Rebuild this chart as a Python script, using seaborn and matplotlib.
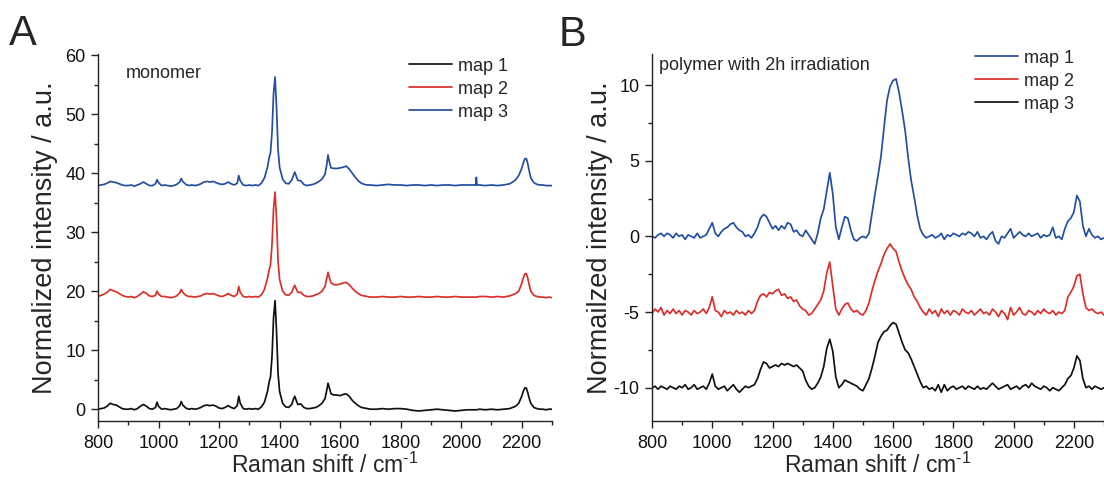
import numpy as np
import pandas as pd
import matplotlib
matplotlib.use("Agg")
import matplotlib.pyplot as plt
from matplotlib.ticker import MultipleLocator
import seaborn as sns

# ---------------- Panel A : monomer ----------------
shift_a = [800, 810, 820, 830, 840, 850, 860, 870, 880, 890,
           900, 910, 920, 930, 940, 950, 960, 970, 980, 990,
           995, 1000, 1010, 1020, 1030, 1040, 1050, 1060, 1070, 1075,
           1080, 1090, 1100, 1110, 1120, 1130, 1140, 1150, 1160, 1170,
           1180, 1190, 1200, 1210, 1220, 1230, 1240, 1250, 1260, 1265,
           1270, 1280, 1290, 1300, 1310, 1320, 1330, 1340, 1350, 1360,
           1365, 1370, 1375, 1380, 1385, 1390, 1395, 1400, 1410, 1420,
           1430, 1440, 1445, 1450, 1455, 1460, 1470, 1480, 1490, 1500,
           1510, 1520, 1530, 1540, 1550, 1555, 1560, 1565, 1570, 1580,
           1590, 1600, 1610, 1620, 1630, 1640, 1650, 1660, 1670, 1680,
           1690, 1700, 1720, 1740, 1760, 1780, 1800, 1820, 1840, 1860,
           1880, 1900, 1920, 1940, 1960, 1980, 2000, 2020, 2040, 2048,
           2050, 2052, 2060, 2080, 2100, 2120, 2140, 2160, 2170, 2180,
           2190, 2200, 2205, 2210, 2215, 2220, 2225, 2230, 2240, 2250,
           2260, 2270, 2280, 2290, 2300]

mono_map1 = [0.0, 0.1, 0.2, 0.5, 1.0, 0.8, 0.7, 0.4, 0.1, 0.0,
             0.0, 0.1, -0.1, 0.1, 0.5, 0.8, 0.5, 0.1, 0.0, 0.3,
             1.2, 0.5, 0.0, 0.1, 0.0, -0.1, 0.0, 0.1, 0.6, 1.3,
             0.7, 0.2, 0.0, 0.1, 0.0, 0.1, 0.3, 0.6, 0.7, 0.6,
             0.7, 0.5, 0.2, 0.1, 0.3, 0.6, 0.3, 0.1, 0.6, 2.2,
             1.0, 0.1, 0.0, 0.1, 0.0, 0.1, 0.0, 0.4, 1.2, 3.0,
             4.5, 5.5, 9.0, 15.5, 18.4, 13.0, 6.0, 3.0, 1.0, 0.4,
             0.3, 0.8, 1.6, 2.2, 1.5, 0.8, 0.9, 0.3, 0.1, 0.1,
             0.2, 0.3, 0.6, 1.0, 1.8, 3.0, 4.4, 3.5, 2.6, 2.4,
             2.4, 2.3, 2.5, 2.6, 2.2, 1.5, 1.0, 0.6, 0.3, 0.2,
             0.1, 0.0, 0.0, 0.1, 0.0, 0.1, 0.1, 0.0, -0.2, -0.3,
             -0.2, -0.1, 0.0, -0.1, -0.2, -0.3, -0.2, -0.1, -0.1, -0.1,
             -0.1, -0.1, 0.0, -0.1, 0.0, -0.1, 0.0, 0.1, 0.3, 0.5,
             1.0, 2.2, 3.0, 3.6, 3.6, 2.8, 1.8, 1.0, 0.3, 0.1,
             0.0, 0.0, -0.1, 0.0, 0.0]

mono_map2 = [19.1, 19.3, 19.5, 19.8, 20.3, 20.1, 19.9, 19.6, 19.3, 19.1,
             19.0, 19.1, 18.9, 19.1, 19.5, 19.9, 19.6, 19.2, 19.1, 19.3,
             20.0, 19.5, 19.1, 19.1, 19.0, 18.9, 19.0, 19.2, 19.7, 20.3,
             19.8, 19.3, 19.1, 19.1, 19.0, 19.1, 19.2, 19.5, 19.6, 19.5,
             19.6, 19.4, 19.2, 19.1, 19.3, 19.6, 19.3, 19.1, 19.5, 20.8,
             19.8, 19.1, 19.0, 19.1, 19.0, 19.1, 19.0, 19.4, 20.3, 22.2,
             23.5, 24.5, 28.0, 34.0, 36.8, 32.0, 25.0, 22.0, 20.0, 19.4,
             19.3, 19.8, 20.5, 21.0, 20.4, 19.8, 19.8, 19.3, 19.1, 19.1,
             19.2, 19.4, 19.6, 20.0, 20.8, 22.0, 23.2, 22.2, 21.4, 21.1,
             21.1, 21.2, 21.4, 21.5, 21.1, 20.5, 20.0, 19.6, 19.3, 19.2,
             19.1, 19.0, 19.0, 19.1, 19.0, 19.0, 19.1, 19.0, 19.0, 19.1,
             19.0, 19.0, 19.1, 19.0, 19.0, 19.1, 19.0, 19.0, 19.0, 19.0,
             19.0, 19.0, 19.1, 19.1, 19.0, 19.1, 19.0, 19.2, 19.4, 19.6,
             20.0, 21.3, 22.2, 22.9, 23.0, 22.2, 21.0, 20.0, 19.3, 19.1,
             19.0, 19.0, 18.9, 19.0, 18.9]

mono_map3 = [37.9, 38.0, 38.1, 38.3, 38.6, 38.5, 38.4, 38.2, 38.0, 37.9,
             37.9, 38.0, 37.8, 38.0, 38.2, 38.5, 38.2, 37.9, 37.9, 38.2,
             38.9, 38.4, 37.9, 38.0, 37.9, 37.8, 37.9, 38.1, 38.5, 39.1,
             38.6, 38.1, 37.9, 38.0, 37.9, 38.0, 38.2, 38.5, 38.6, 38.5,
             38.6, 38.4, 38.2, 38.1, 38.2, 38.5, 38.2, 38.0, 38.3, 39.6,
             38.7, 38.0, 37.9, 38.0, 37.9, 38.0, 37.9, 38.3, 39.2, 41.0,
             42.5, 43.5, 47.0, 53.5, 56.3, 51.0, 44.0, 41.0, 39.0, 38.3,
             38.2, 38.8, 39.5, 40.2, 39.5, 38.8, 38.7, 38.1, 37.9, 38.0,
             38.1, 38.3, 38.6, 39.0, 39.8, 41.2, 43.1, 41.8, 40.9, 40.8,
             40.8, 40.9, 41.0, 41.2, 40.7, 40.0, 39.3, 38.7, 38.3, 38.1,
             38.0, 38.0, 37.9, 38.0, 38.1, 38.0, 38.0, 37.9, 38.0, 38.0,
             37.9, 38.0, 37.9, 38.0, 38.0, 37.9, 38.0, 38.0, 38.0, 38.0,
             39.3, 38.0, 38.0, 37.9, 38.0, 37.9, 38.0, 38.2, 38.5, 38.9,
             39.6, 40.8, 41.7, 42.4, 42.5, 41.6, 40.3, 39.2, 38.4, 38.1,
             38.0, 38.0, 37.9, 37.9, 37.9]

# ---------------- Panel B : polymer with 2h irradiation ----------------
shift_b = [800, 810, 820, 830, 840, 850, 860, 870, 880, 890,
           900, 910, 920, 930, 940, 950, 960, 970, 980, 990,
           1000, 1010, 1020, 1030, 1040, 1050, 1060, 1070, 1080, 1090,
           1100, 1110, 1120, 1130, 1140, 1150, 1160, 1170, 1180, 1190,
           1200, 1210, 1220, 1230, 1240, 1250, 1260, 1270, 1280, 1290,
           1300, 1310, 1320, 1330, 1340, 1350, 1360, 1370, 1380, 1390,
           1400, 1410, 1420, 1430, 1440, 1450, 1460, 1470, 1480, 1490,
           1500, 1510, 1520, 1530, 1540, 1550, 1560, 1570, 1580, 1590,
           1600, 1610, 1620, 1630, 1640, 1650, 1660, 1670, 1680, 1690,
           1700, 1710, 1720, 1730, 1740, 1750, 1760, 1770, 1780, 1790,
           1800, 1810, 1820, 1830, 1840, 1850, 1860, 1870, 1880, 1890,
           1900, 1910, 1920, 1930, 1940, 1950, 1960, 1970, 1980, 1990,
           2000, 2010, 2020, 2030, 2040, 2050, 2060, 2070, 2080, 2090,
           2100, 2110, 2120, 2130, 2140, 2150, 2160, 2170, 2180, 2190,
           2200, 2210, 2220, 2230, 2240, 2250, 2260, 2270, 2280, 2290,
           2300]

poly_map1 = [0.0, -0.1, 0.1, 0.2, 0.0, 0.2, 0.1, -0.1, 0.2, 0.0,
             0.1, -0.2, 0.1, 0.0, -0.1, 0.2, -0.1, 0.0, 0.1, 0.5,
             0.9, 0.2, 0.0, 0.3, 0.5, 0.6, 0.8, 0.9, 0.6, 0.4,
             0.3, 0.0, 0.1, -0.1, 0.2, 0.6, 1.2, 1.45, 1.3, 0.9,
             0.5, 0.7, 0.4, 0.7, 0.5, 0.9, 0.8, 0.3, 0.4, 0.1,
             0.0, 0.4, 0.1, -0.2, -0.5, 0.2, 1.2, 1.8, 3.0, 4.2,
             2.8, 0.6, -0.2, 0.6, 1.3, 1.2, 0.4, -0.2, -0.3, -0.1,
             0.0, -0.1, 0.2, 1.5, 2.8, 4.0, 5.3, 7.2, 9.0, 9.9,
             10.3, 10.4, 9.5, 8.3, 7.0, 5.2, 3.7, 2.6, 1.4, 0.5,
             0.1, -0.1, 0.0, 0.1, -0.1, 0.0, 0.2, -0.2, 0.1, 0.0,
             0.2, 0.1, 0.0, 0.2, 0.1, 0.3, 0.2, 0.0, 0.3, -0.1,
             0.0, -0.2, 0.1, 0.3, -0.3, -0.5, 0.0, -0.1, 0.2, 0.5,
             -0.1, 0.1, 0.3, 0.1, 0.0, 0.2, 0.0, 0.1, 0.2, -0.1,
             0.1, 0.0, 0.1, 0.6, -0.1, 0.0, -0.2, 0.5, 1.0, 1.2,
             1.6, 2.7, 2.3, 0.7, 0.0, 0.5, 0.1, -0.1, 0.0, -0.2,
             -0.1]

poly_map2 = [-5.1, -4.8, -5.0, -4.7, -5.2, -4.9, -5.1, -4.8, -5.1, -4.9,
             -5.2, -4.9, -5.0, -5.2, -4.9, -5.1, -5.0, -4.8, -5.1, -4.7,
             -4.0, -4.9, -5.0, -5.3, -4.9, -5.1, -5.0, -5.2, -4.9, -5.1,
             -5.0, -5.2, -4.9, -5.1, -4.9, -4.3, -3.9, -3.8, -4.0, -3.7,
             -3.8, -3.6, -3.5, -3.9, -3.8, -4.1, -4.0, -4.3, -4.2, -4.6,
             -4.8, -4.9, -5.2, -5.1, -4.8, -4.5, -4.2, -3.6, -2.4, -1.7,
             -3.3, -4.8, -5.2, -4.8, -4.5, -4.4, -4.8, -5.0, -4.9, -5.1,
             -5.2, -4.9, -4.4, -3.6, -2.9, -2.3, -1.8, -1.2, -0.8, -0.5,
             -0.8, -1.0, -1.7, -2.3, -2.8, -3.2, -3.5, -4.0, -4.3, -4.7,
             -5.0, -5.2, -4.8, -5.1, -4.9, -5.3, -4.8, -5.1, -4.9, -5.2,
             -4.9, -5.0, -5.2, -4.8, -5.0, -5.1, -4.9, -5.2, -5.0, -4.8,
             -5.1, -5.0, -5.2, -4.8, -5.0, -5.3, -4.9, -5.1, -5.5, -4.7,
             -5.2, -5.0, -4.7, -5.1, -5.2, -4.9, -5.0, -5.2, -4.9, -5.1,
             -4.8, -5.0, -5.1, -4.9, -5.2, -5.0, -5.1, -4.9, -4.0, -3.7,
             -3.3, -2.6, -2.5, -3.8, -4.7, -4.9, -4.8, -5.0, -5.1, -5.0,
             -5.2]

poly_map3 = [-10.0, -9.9, -10.1, -9.9, -10.0, -10.1, -9.9, -10.0, -10.1, -9.9,
             -10.0, -9.8, -10.1, -10.0, -9.8, -10.1, -10.0, -9.9, -10.1, -9.7,
             -9.1, -9.9, -10.1, -10.0, -9.9, -10.2, -10.0, -9.8, -10.1, -10.3,
             -10.1, -9.9, -10.0, -9.9, -9.8, -9.4, -8.8, -8.3, -8.4, -8.7,
             -8.6, -8.5, -8.6, -8.4, -8.5, -8.4, -8.5, -8.6, -8.5, -8.7,
             -8.9, -9.5, -9.9, -10.1, -10.0, -9.7, -9.3, -8.6, -7.4, -6.8,
             -7.6, -9.3, -10.0, -9.8, -9.5, -9.6, -9.7, -9.8, -9.9, -10.1,
             -10.2, -9.8, -9.4, -8.7, -7.9, -7.0, -6.6, -6.3, -6.2, -5.9,
             -5.7, -5.8, -6.4, -7.0, -7.5, -7.7, -8.1, -8.6, -9.1, -9.6,
             -10.0, -9.9, -10.1, -10.0, -10.2, -9.8, -10.3, -9.8, -10.2, -10.0,
             -9.9, -10.1, -10.0, -9.9, -10.1, -9.9, -10.0, -10.1, -9.9, -10.1,
             -10.0, -10.1, -9.9, -9.7, -9.9, -10.1, -10.0, -9.9, -9.8, -10.1,
             -10.0, -9.9, -10.1, -9.9, -9.8, -10.0, -9.7, -9.9, -10.0, -10.1,
             -9.9, -10.0, -10.2, -10.0, -10.1, -10.2, -10.0, -9.8, -9.4, -9.2,
             -8.7, -7.9, -8.2, -9.4, -10.0, -9.9, -10.1, -9.9, -10.0, -10.1,
             -10.0]

legend_labels = ["map 1", "map 2", "map 3"]
BLACK, RED, BLUE = "#111111", "#d9302c", "#234f9f"

for arr in (mono_map1, mono_map2, mono_map3):
    assert len(arr) == len(shift_a)
for arr in (poly_map1, poly_map2, poly_map3):
    assert len(arr) == len(shift_b)

# ---------------- Styling ----------------
sns.set_style("ticks")
plt.rcParams['font.family'] = ['Liberation Sans', 'DejaVu Sans']
plt.rcParams['mathtext.fontset'] = 'custom'
plt.rcParams['mathtext.rm'] = 'Liberation Sans'
plt.rcParams['mathtext.it'] = 'Liberation Sans:italic'
plt.rcParams['mathtext.bf'] = 'Liberation Sans:bold'
plt.rcParams['axes.unicode_minus'] = False

W, H = 1104, 479
fig = plt.figure(figsize=(W / 100, H / 100), dpi=100)
top, bottom = 54, 421
axA = fig.add_axes([98 / W, (H - bottom) / H, 454 / W, (bottom - top) / H])
axB = fig.add_axes([652 / W, (H - bottom) / H, 452 / W, (bottom - top) / H])

dfA = pd.DataFrame({"shift": shift_a * 3,
                    "intensity": mono_map1 + mono_map2 + mono_map3,
                    "map": sum([[l] * len(shift_a) for l in legend_labels], [])})
dfB = pd.DataFrame({"shift": shift_b * 3,
                    "intensity": poly_map1 + poly_map2 + poly_map3,
                    "map": sum([[l] * len(shift_b) for l in legend_labels], [])})

for lab, col in zip(legend_labels, [BLACK, RED, BLUE]):
    sub = dfA[dfA["map"] == lab]
    sns.lineplot(data=sub, x="shift", y="intensity", ax=axA, color=col,
                 lw=1.25, estimator=None, sort=False, label=lab)
for lab, col in zip(legend_labels, [BLUE, RED, BLACK]):
    sub = dfB[dfB["map"] == lab]
    sns.lineplot(data=sub, x="shift", y="intensity", ax=axB, color=col,
                 lw=1.25, estimator=None, sort=False, label=lab)

axA.set_xlim(800, 2300)
axA.set_ylim(-2.0, 60.2)
axA.yaxis.set_major_locator(MultipleLocator(10))
axA.yaxis.set_minor_locator(MultipleLocator(5))
axB.set_xlim(800, 2300)
axB.set_ylim(-12.2, 12.05)
axB.yaxis.set_major_locator(MultipleLocator(5))
axB.yaxis.set_minor_locator(MultipleLocator(2.5))

for ax, ylab, lx in ((axA, "Normalized intensity / a.u.", -0.117),
                     (axB, "Normailzed intensity / a.u.", -0.115)):
    ax.xaxis.set_major_locator(MultipleLocator(200))
    ax.xaxis.set_minor_locator(MultipleLocator(100))
    sns.despine(ax=ax)
    for s in ("left", "bottom"):
        ax.spines[s].set_linewidth(1.0)
        ax.spines[s].set_color("#222222")
    ax.tick_params(which="both", direction="out", width=1.0, color="#222222",
                   labelsize=13, labelcolor="#111111")
    ax.tick_params(which="major", length=5)
    ax.tick_params(which="minor", length=3)
    ax.tick_params(axis="x", pad=5)
    ax.tick_params(axis="y", pad=4)
    ax.set_xlabel(r"Raman shift / cm$^{\text{-1}}$", fontsize=16.5)
    ax.xaxis.label.set_va("baseline")
    ax.xaxis.set_label_coords(0.5, (bottom - 473) / (bottom - top))
    ax.set_ylabel(ylab, fontsize=19.5)
    ax.yaxis.label.set_va("center")
    ax.yaxis.set_label_coords(lx, 0.5)

axA.legend(loc="upper left", bbox_to_anchor=(0.685, 0.99), frameon=False,
           fontsize=13, handlelength=2.4, handletextpad=0.3, labelspacing=0.33,
           borderpad=0, borderaxespad=0)
axB.legend(loc="upper left", bbox_to_anchor=(0.7146, 1.012), frameon=False,
           fontsize=13, handlelength=2.4, handletextpad=0.3, labelspacing=0.33,
           borderpad=0, borderaxespad=0)

axA.text(0.0617, 0.9476, "monomer", transform=axA.transAxes, fontsize=13,
         ha="left", va="center")
axB.text(0.0155, 0.970, "polymer with 2h irradiation", transform=axB.transAxes,
         fontsize=13, ha="left", va="center")

fig.text(23 / W, 1 - 34 / H, "A", fontsize=30, ha="center", va="center")
fig.text(573 / W, 1 - 35 / H, "B", fontsize=30, ha="center", va="center")

fig.savefig("out.png", dpi=100)
